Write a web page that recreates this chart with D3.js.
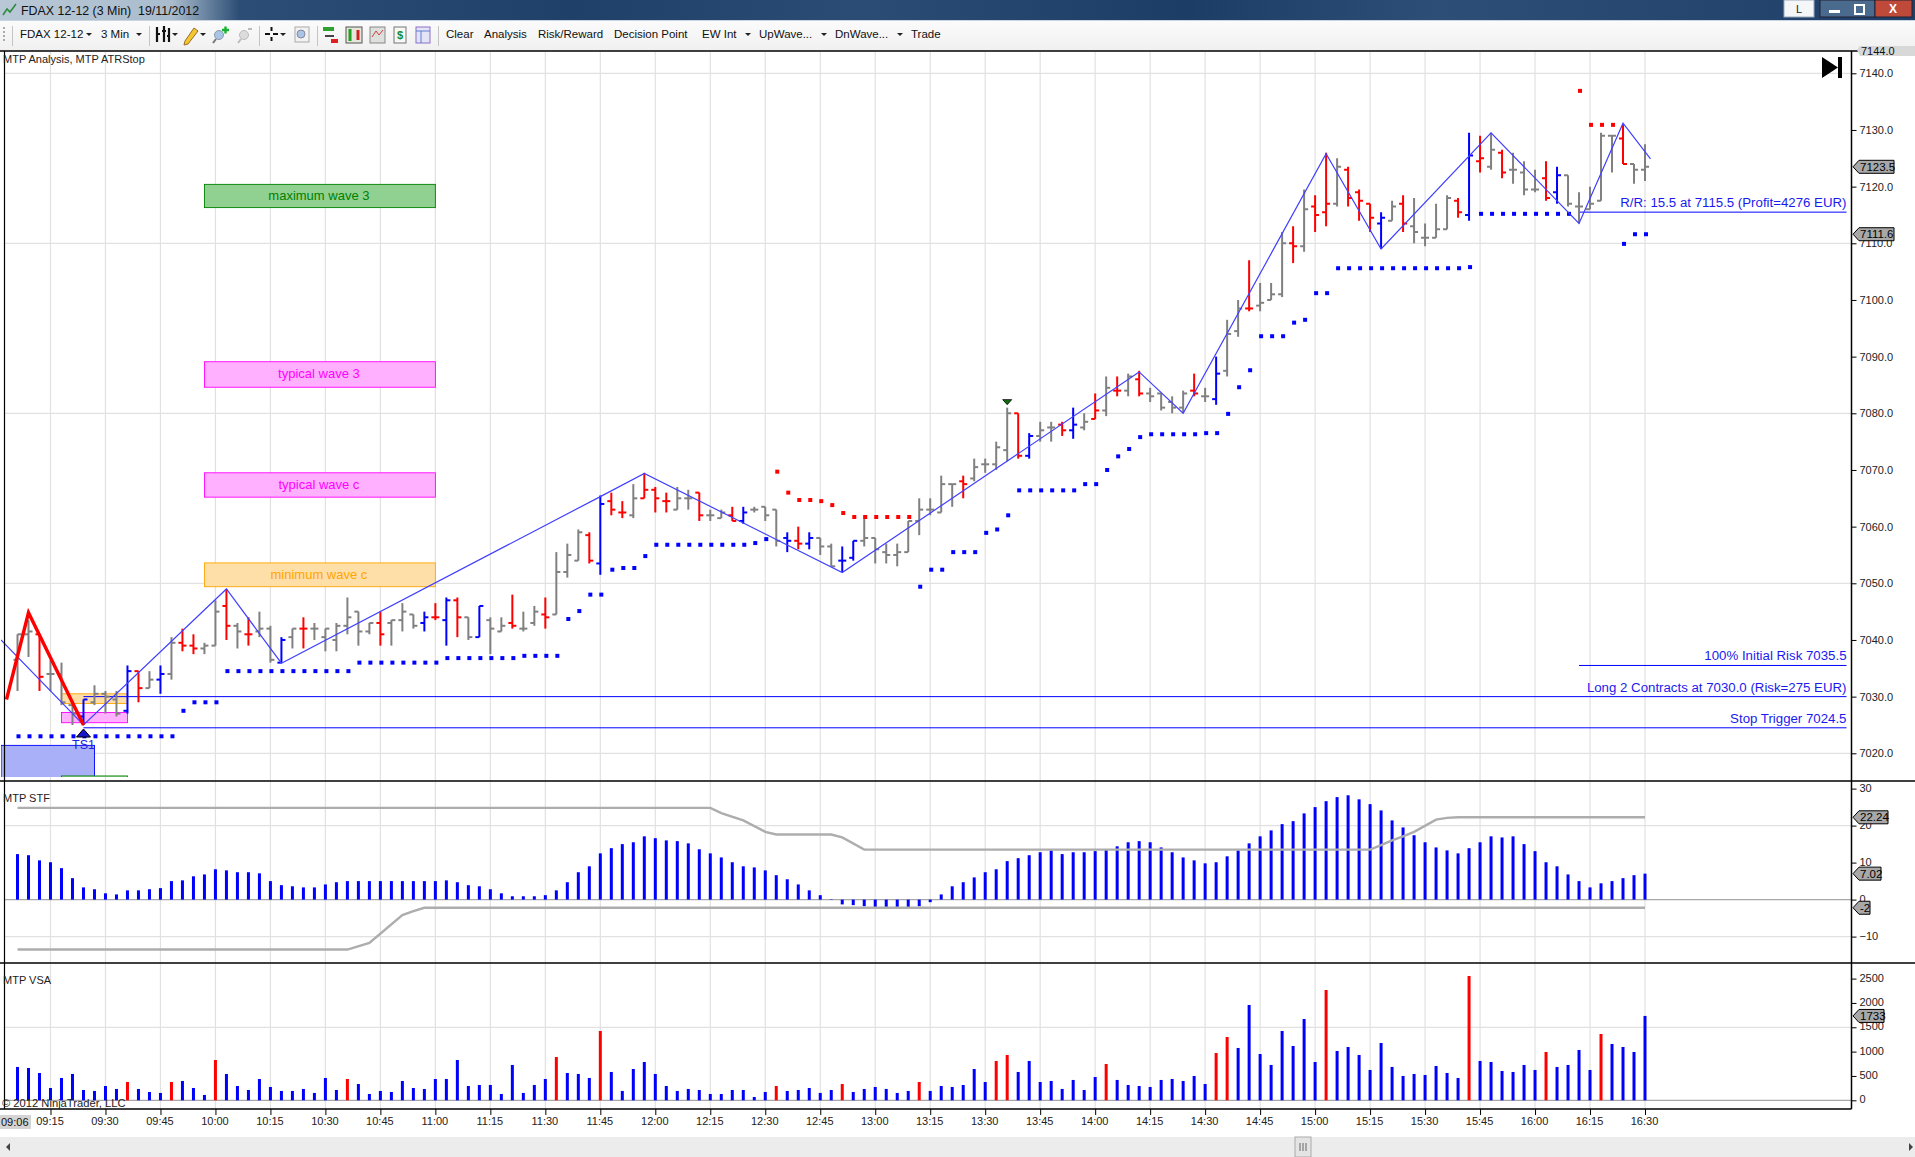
<!DOCTYPE html>
<html>
<head>
<meta charset="utf-8">
<title>FDAX 12-12 (3 Min)</title>
<script src="https://cdn.jsdelivr.net/npm/d3@7"></script>
<style>
  html, body { margin: 0; padding: 0; background: #fff; overflow: hidden; }
  svg { display: block; }
  text { font-family: "Liberation Sans", Arial, sans-serif; }
</style>
</head>
<body>
<div id="chart"></div>
<script>
const width = 1915;
const height = 1157;

// OHLC bars, one every 3 minutes from 09:06 to 16:30
const barOpen = [7036.5,7041,7041,7034,7034,7028.5,7026.5,7029,7030.5,7029.5,
  7027.5,7034.5,7031.5,7033,7034,7039.5,7039,7038.5,7039,7046,
  7042.5,7041,7041.5,7042,7036,7040.5,7042,7042,7040.5,7040,
  7042.5,7045,7041.5,7043,7043,7043.5,7044.5,7043,7044,7043.5,
  7047,7044,7040.5,7043.5,7041.5,7043,7042,7043,7044.5,7044.5,
  7052,7054,7058.5,7053.5,7064.5,7062.5,7062,7065,7066.5,7064.5,
  7063,7065,7066,7062,7061.5,7062,7061,7063,7063.5,7063,
  7058,7057.5,7057,7058,7056.5,7054,7054.5,7057.5,7058,7055.5,
  7055,7055.5,7061,7063,7062.5,7067.5,7068,7068.5,7071,7071,
  7073.5,7080,7072.5,7076,7077.5,7078,7077,7077.5,7079,7080.5,
  7084,7084,7086,7083.5,7083.5,7082,7081,7084,7083,7082.5,
  7087.5,7094.5,7098.5,7099,7100,7101,7110,7109.5,7116.5,7115.5,
  7117,7123,7119,7117,7113.5,7114,7117,7113,7111,7111,
  7112.5,7117.5,7115,7124.5,7123.5,7126,7123,7122.5,7119.5,7121.5,
  7119,7122,7116.5,7116,7117.5,7129,7128.5,7124,7123];
const barHigh = [7041,7043.5,7041,7036.5,7036,7029,7029.5,7032,7031,7031,
  7035.5,7034.5,7034.5,7035.5,7040.5,7042,7041,7039.5,7047,7049,
  7043,7044,7045,7042.5,7040.5,7042,7044,7043,7042,7043,
  7047.5,7045,7043,7045,7043.5,7046.5,7044.5,7045,7046.5,7047.5,
  7047.5,7044,7046,7044,7044,7048,7045,7046,7047.5,7055.5,
  7057,7059.5,7059,7065.5,7066,7064.5,7067.5,7069.5,7067,7066,
  7067,7066.5,7066,7063,7063,7063.5,7063.5,7063.5,7063.5,7063,
  7059,7060,7059,7058,7057,7056.5,7057.5,7062,7058,7057,
  7057,7061,7065,7065,7069,7067.5,7069,7072,7072,7075,
  7081,7080,7076.5,7078.5,7078.5,7078.5,7081,7080,7083.5,7086.5,
  7086.5,7087,7087.5,7084.5,7083.5,7083,7084,7087,7084.5,7090,
  7096.5,7100,7107,7103,7103,7112,7113,7119.5,7118.5,7126,
  7125,7123.5,7119.5,7117,7115.5,7117.5,7118.5,7118,7113.5,7117,
  7118.5,7118,7129.5,7129,7129.5,7126.5,7126,7124.5,7123,7124.5,
  7123.5,7122,7119,7120,7129.5,7129,7131,7124,7127.5];
const barLow = [7031,7037,7031,7031,7028.5,7025,7025,7028.5,7027,7026.5,
  7027,7029,7031.5,7030.5,7033,7038,7037.5,7037.5,7039,7040,
  7038.5,7039,7040.5,7036,7036,7038.5,7038.5,7040,7038,7038,
  7041,7039,7041,7039,7039,7041.5,7042,7041.5,7043.5,7039,
  7040.5,7040,7040.5,7037.5,7041.5,7042,7041.5,7042.5,7042,7044.5,
  7051,7054,7053.5,7051.5,7062,7061.5,7061.5,7065,7062.5,7062.5,
  7063,7063,7061,7061,7061.5,7061,7060.5,7062.5,7061,7056.5,
  7055.5,7056,7056,7055,7053,7052,7054,7056.5,7053.5,7053.5,
  7053,7055.5,7058.5,7062,7062.5,7063.5,7065,7068,7069.5,7070,
  7071.5,7072,7072,7075,7075,7076,7075.5,7077,7079,7079.5,
  7083,7083,7083,7082,7080.5,7080,7080,7083,7082,7081.5,
  7086.5,7093.5,7098,7098,7100,7100.5,7106.5,7108.5,7112,7113,
  7116.5,7116.5,7114,7112,7109,7114,7112,7110,7109.5,7111,
  7112.5,7114.5,7114,7122.5,7123,7121.5,7120.5,7118.5,7119,7117.5,
  7117,7116.5,7113.5,7116,7117.5,7122.5,7124,7120.5,7121];
const barClose = [7041,7041.5,7033.5,7034,7029,7027,7029.5,7030.5,7030,7027,
  7034.5,7031.5,7033,7034,7039.5,7039,7038.5,7039,7045,7042.5,
  7041.5,7041,7042,7036.5,7040,7042,7042,7042,7042,7042.5,
  7044,7041.5,7043,7041,7043.5,7045,7042.5,7044,7044,7047,
  7044,7040.5,7046,7042,7042.5,7042.5,7042,7045,7044,7052,
  7055,7059,7054,7064,7063,7062.5,7065,7066.5,7065,7064.5,
  7065,7065,7062,7062,7062.5,7061,7062.5,7063,7062,7057.5,
  7057.5,7057,7058,7056.5,7053,7054,7057.5,7058,7056,7055,
  7055.5,7061,7063,7063,7067.5,7067.5,7067.5,7070.5,7071,7074,
  7080,7072.5,7076,7077,7077.5,7077,7078,7078.5,7080.5,7084.5,
  7084,7086.5,7083.5,7083,7081,7081,7083.5,7083.5,7083,7087,
  7094,7098.5,7098.5,7099.5,7101,7110,7109.5,7116,7115,7117,
  7123.5,7118,7117.5,7114.5,7114.5,7116.5,7113.5,7112,7111,7112.5,
  7118,7115.5,7125.5,7125,7126.5,7122.5,7123,7119.5,7119.5,7118,
  7122,7117,7116.5,7117,7129,7129,7124,7123,7123.5];
const barColour = ("ggrgggbggg" + "brgbgrrggr" + "grggbgrggg" + "gggrgggbrb" + "rgbggrggrg" +
  "ggrbrrgrrr" + "ggrggrbggg" + "brbggbbggg" + "ggggggrggg" + "grbggrbgrg" +
  "rgrggggrgb" + "ggrgggrgrr" + "grrrbgrggg" + "grbrgrgggr" + "bgggggrgg").split("");
const colourOf = { g: "#808080", r: "#ff0000", b: "#0000ff" };

// ATR stop runs: first bar, last bar, price
const blueStops = [[0,14,7023],[15,15,7027.5],[16,18,7029],[19,30,7034.5],[31,38,7036],
  [39,45,7036.8],[46,49,7037.2],[50,50,7043.7],[51,51,7045.1],[52,53,7048],[54,54,7052.4],
  [55,56,7052.7],[57,57,7054.8],[58,66,7056.8],[67,67,7057.1],[68,68,7057.8],[82,82,7049.4],
  [83,84,7052.4],[85,87,7055.5],[88,88,7058.9],[89,89,7059.5],[90,90,7062],[91,96,7066.4],
  [97,98,7067.5],[99,99,7070],[100,100,7072.4],[101,101,7073.7],[102,102,7075.8],[103,107,7076.3],
  [108,109,7076.5],[110,110,7079.9],[111,111,7084.6],[112,112,7087.6],[113,115,7093.6],
  [116,116,7096],[117,117,7096.5],[118,119,7101.2],[120,131,7105.6],[132,132,7105.8],
  [133,141,7115.2],[146,146,7109.9],[147,148,7111.6]];
const redStops = [[69,69,7069.7],[70,70,7066],[71,72,7064.7],[73,73,7064.5],[74,74,7063.8],
  [75,75,7062.4],[76,81,7061.7],[142,142,7136.9],[143,145,7130.9]];

// Swing lines: [bar, price]
const zigzag = [[-1.5,7040],[6,7025],[19,7049],[24,7035.9],[53,7065.3],[57,7069.4],[75,7051.9],
  [102,7087.3],[106,7080],[119,7125.8],[124,7109],[134,7129.5],[142,7113.5],[146,7131.2],[148.5,7124.9]];
const redWave = [[-1,7029.5],[1,7044.8],[6,7025]];

// Target boxes: label, first bar, last bar, top price, bottom price, stroke, fill
const zones = [
  ["maximum wave 3", 17, 38, 7120.4, 7116.3, "#008000", "#90d090"],
  ["typical wave 3", 17, 38, 7089.1, 7084.6, "#ff00ff", "#ffb0ff"],
  ["typical wave c", 17, 38, 7069.5, 7065.2, "#ff00ff", "#ffb0ff"],
  ["minimum wave c", 17, 38, 7053.6, 7049.4, "#ffa500", "#ffdfa8"],
  ["", 4, 10, 7030.5, 7028.8, "#ffa500", "#ffdfa8"],
  ["", 4, 10, 7027.2, 7025.4, "#ff00ff", "#ffb0ff"],
  ["", -1.5, 7, 7021.4, 7000, "#0000ff", "#aab0f8"],
  ["", 4, 10, 7016, 7000, "#008000", "#aad8aa"]
];

// Trade levels: price, first bar, label
const tradeLines = [
  [7115.5, 142, "R/R: 15.5 at 7115.5 (Profit=4276 EUR)"],
  [7035.5, 142, "100% Initial Risk 7035.5"],
  [7030, 6, "Long 2 Contracts at 7030.0 (Risk=275 EUR)"],
  [7024.5, 6, "Stop Trigger 7024.5"]
];

// MTP STF histogram
const stfValues = [12.3,12,10.6,10.1,8.5,5.8,3.3,2.8,1.7,1.4,2.5,2.5,2.8,3.1,5,5.2,6.3,6.8,8.2,7.9,
  7.4,7.4,7.1,5,3.9,3.6,3.3,3.3,4.1,4.7,5,5,5,5,5,5,5,5,5,5.2,4.7,3.9,3.6,2.8,1.7,0.9,0.9,0.9,1.2,2.5,
  4.7,7.4,9,12.5,13.9,15,15.5,
  17.1,16.6,16,15.8,15.2,13.6,12.5,11.4,10.1,9,8.7,7.9,6.6,5.5,4.1,2.5,1.2,0.1,-1.3,-1.5,-1.8,-2.3,-2.3,-2.3,
  -2.3,-1.8,-0.7,1.4,3.6,4.7,6,7.4,8.2,10.4,11.2,12,12.8,13.3,12.3,12.8,12.8,13.1,13.6,14.4,15.5,15.8,15.5,
  14.1,12.8,11.4,10.6,9.8,10.1,11.7,13.3,15.2,17.1,18.7,
  20.4,21.2,23.3,25,26.6,27.7,28.2,27.1,25.8,24.1,21.4,19.5,17.4,15.5,14.1,13.3,12.5,13.9,15.5,17.1,16.8,17.1,
  15,13.1,10.1,9,6.8,5,3.3,4.4,5,5.8,6.6,7.02];
const stfUpper = [[0,24.8],[63,24.8],[64,23.4],[66,21.4],[68,18.3],[69,17.6],[74,17.6],[75,16.8],[77,13.5],
  [123,13.5],[124,14.7],[125,16],[126,17.1],[127,18.3],[129,21.6],[130,22.1],[131,22.24],[148,22.24]];
const stfLower = [[0,-13.5],[30,-13.5],[32,-11.7],[35,-4.2],[36,-3.1],[37,-2.2],[148,-2.2]];

// MTP VSA volume
const volumes = [685,664,561,253,459,541,212,192,294,233,376,233,171,151,376,397,253,110,828,541,
  294,212,438,274,192,192,233,151,459,212,438,335,130,192,171,397,253,233,438,438,828,294,315,315,130,726,
  151,315,438,890,561,541,459,1424,582,192,643,
  787,541,294,192,233,212,130,130,212,212,68,171,294,192,212,253,151,212,335,171,233,274,233,151,192,376,
  192,294,274,315,643,376,808,931,582,808,376,397,233,418,212,479,746,418,315,294,274,418,438,397,500,335,
  972,1301,1075,1958,951,726,
  1424,1116,1670,787,2266,1013,1095,931,623,1177,685,500,541,520,705,561,459,2553,808,787,602,582,726,623,
  993,685,726,1034,623,1362,1157,1095,993,1733];
const volumeRed = [10,14,18,30,49,53,69,75,82,89,90,99,109,110,119,132,139,144];

const timeLabels = ["09:15","09:30","09:45","10:00","10:15","10:30","10:45","11:00","11:15","11:30","11:45",
  "12:00","12:15","12:30","12:45","13:00","13:15","13:30","13:45","14:00","14:15","14:30","14:45",
  "15:00","15:15","15:30","15:45","16:00","16:15","16:30"];
const priceTicks = [7020,7030,7040,7050,7060,7070,7080,7090,7100,7110,7120,7130,7140];
const priceGrid = [7020,7050,7080,7110,7140];
const stfTicks = [-10,0,10,20,30];
const volumeTicks = [0,500,1000,1500,2000,2500];
const toolbarLabels = [["FDAX 12-12",20],["3 Min",101],["Clear",446],["Analysis",484],["Risk/Reward",538],
  ["Decision Point",614],["EW Int",702],["UpWave...",759],["DnWave...",835],["Trade",911]];
const toolbarArrows = [89,139,175,203,283,748,824,900];
const toolbarSeparators = [12.5,149.5,259.5,317.5,438.5];

const axisX = 1851.5;
const x = d3.scaleLinear().domain([0, 148]).range([17.5, 1645]);
const yPrice = d3.scaleLinear().domain([7020, 7140]).range([753.3, 73.3]);
const yStf = d3.scaleLinear().domain([-10, 20]).range([936.6, 825.6]);
const yVol = d3.scaleLinear().domain([0, 2500]).range([1100.3, 978.6]);

const svg = d3.select("#chart").append("svg")
    .attr("width", width)
    .attr("height", height)
    .attr("viewBox", [0, 0, width, height]);
const defs = svg.append("defs");

// window chrome
const titleGrad = defs.append("linearGradient").attr("id", "titleGrad");
[[0,"#b9c8d6"],[0.09,"#a9bccd"],[0.125,"#2c4d75"],[0.3,"#1f4068"],[0.45,"#2b4c74"],[0.62,"#1c3d66"],[0.75,"#2d4e76"],[1,"#1f3f68"]]
  .forEach(s => titleGrad.append("stop").attr("offset", s[0]).attr("stop-color", s[1]));
const toolGrad = defs.append("linearGradient").attr("id", "toolGrad").attr("x2", 0).attr("y2", 1);
toolGrad.append("stop").attr("offset", 0).attr("stop-color", "#fbfbfb");
toolGrad.append("stop").attr("offset", 1).attr("stop-color", "#f0f0f0");
defs.append("clipPath").attr("id", "mainClip").append("rect")
    .attr("x", 1).attr("y", 52).attr("width", axisX - 1).attr("height", 725);

svg.append("rect").attr("width", width).attr("height", 20).attr("fill", "url(#titleGrad)");
svg.append("rect").attr("y", 20).attr("width", width).attr("height", 1).attr("fill", "#c8d4e0");
svg.append("rect").attr("y", 21).attr("width", width).attr("height", 30).attr("fill", "url(#toolGrad)");
svg.append("text").attr("x", 21).attr("y", 14.5).attr("font-size", 12.4).attr("fill", "#111")
    .style("white-space", "pre").text("FDAX 12-12 (3 Min)  19/11/2012");
svg.append("path").attr("d", "M3 15L7 9L10 12L16 4").attr("fill", "none").attr("stroke", "#2a8a3a").attr("stroke-width", 1.5);

// window buttons
svg.append("rect").attr("x", 1784).attr("y", 0).attr("width", 30).attr("height", 17).attr("fill", "#f4f6f8").attr("stroke", "#9ab");
svg.append("text").attr("x", 1799).attr("y", 13).attr("text-anchor", "middle").attr("font-size", 11).attr("fill", "#222").text("L");
svg.append("rect").attr("x", 1820).attr("y", 0).attr("width", 55).attr("height", 17).attr("fill", "#4a6a8e").attr("stroke", "#223");
svg.append("rect").attr("x", 1875).attr("y", 0).attr("width", 37).attr("height", 17).attr("fill", "#c04a3a").attr("stroke", "#223");
svg.append("rect").attr("x", 1829).attr("y", 10).attr("width", 11).attr("height", 3).attr("fill", "#fff");
svg.append("rect").attr("x", 1855).attr("y", 5).attr("width", 9).attr("height", 9).attr("fill", "none").attr("stroke", "#fff").attr("stroke-width", 2);
svg.append("text").attr("x", 1893).attr("y", 13).attr("text-anchor", "middle").attr("font-size", 12).attr("font-weight", "bold").attr("fill", "#fff").text("X");

// toolbar
svg.selectAll(".toolLabel").data(toolbarLabels).enter().append("text")
    .attr("x", d => d[1]).attr("y", 38).attr("font-size", 11.5).attr("fill", "#111").text(d => d[0]);
svg.selectAll(".toolArrow").data(toolbarArrows).enter().append("path")
    .attr("d", d => `M${d - 3} 33L${d + 3} 33L${d} 36Z`).attr("fill", "#222");
svg.selectAll(".toolSep").data(toolbarSeparators).enter().append("line")
    .attr("x1", d => d).attr("x2", d => d).attr("y1", 26).attr("y2", 46).attr("stroke", "#c4c4c4");
svg.append("line").attr("x1", 4).attr("x2", 4).attr("y1", 27).attr("y2", 42)
    .attr("stroke", "#aaa").attr("stroke-width", 2).attr("stroke-dasharray", "2 2");
// toolbar icons, kept simple
svg.append("path").attr("d", "M156 34H160M157 27V42M162 31H166M164 26V42M167 36H170M169 28V42").attr("stroke", "#111").attr("stroke-width", 2.2).attr("fill", "none");
svg.append("path").attr("d", "M185 41L194 28L198 31L188 44L184 45Z").attr("fill", "#f2c832").attr("stroke", "#a06a20");
svg.append("circle").attr("cx", 219).attr("cy", 35).attr("r", 4.5).attr("fill", "#a9c4e4").attr("stroke", "#8a9aa8");
svg.append("path").attr("d", "M216 39L213 43").attr("stroke", "#777").attr("stroke-width", 2);
svg.append("path").attr("d", "M222 30H229M225.5 26.5V33.5").attr("stroke", "#18b030").attr("stroke-width", 2.4);
svg.append("circle").attr("cx", 244).attr("cy", 35).attr("r", 4.5).attr("fill", "#dcdcdc").attr("stroke", "#bbb");
svg.append("path").attr("d", "M241 39L238 43M248 29H252").attr("stroke", "#bbb").attr("stroke-width", 2);
svg.append("path").attr("d", "M265 34H270M273 34H278M271.5 27V31M271.5 37V41").attr("stroke", "#111").attr("stroke-width", 2);
svg.append("rect").attr("x", 295).attr("y", 27).attr("width", 14).attr("height", 15).attr("fill", "#f2f2f2").attr("stroke", "#aaa");
svg.append("circle").attr("cx", 301).attr("cy", 34).attr("r", 4).attr("fill", "#a9c4e4").attr("stroke", "#889");
// chart type icons
svg.append("path").attr("d", "M323 29H334").attr("stroke", "#30a030").attr("stroke-width", 4);
svg.append("path").attr("d", "M325 36H334").attr("stroke", "#444").attr("stroke-width", 2);
svg.append("path").attr("d", "M331 41H338").attr("stroke", "#e02020").attr("stroke-width", 4);
svg.append("rect").attr("x", 346).attr("y", 27).attr("width", 16).attr("height", 16).attr("fill", "#e6e6dc").attr("stroke", "#555");
svg.append("path").attr("d", "M350 29V41").attr("stroke", "#20a020").attr("stroke-width", 3);
svg.append("path").attr("d", "M358 30V40").attr("stroke", "#d02020").attr("stroke-width", 3);
svg.append("rect").attr("x", 370).attr("y", 27).attr("width", 15).attr("height", 16).attr("fill", "#dde0dc").attr("stroke", "#888");
svg.append("path").attr("d", "M372 37L376 31L379 35L383 30").attr("fill", "none").attr("stroke", "#d04040");
svg.append("rect").attr("x", 394).attr("y", 27).attr("width", 12).attr("height", 16).attr("fill", "#f6f8f4").attr("stroke", "#777");
svg.append("text").attr("x", 400).attr("y", 39).attr("text-anchor", "middle").attr("font-size", 11).attr("font-weight", "bold").attr("fill", "#128a30").text("$");
svg.append("rect").attr("x", 416).attr("y", 27).attr("width", 14).attr("height", 16).attr("fill", "#e4e4f6").attr("stroke", "#8a70c8");
svg.append("path").attr("d", "M416 31H430M421 31V43").attr("stroke", "#5a80d0");

// scrollbar
svg.append("rect").attr("y", 1137).attr("width", width).attr("height", 20).attr("fill", "#ececec");
svg.append("rect").attr("x", 1295).attr("y", 1137).attr("width", 16).attr("height", 20).attr("fill", "#e4e4e4").attr("stroke", "#aaa");
svg.append("path").attr("d", "M1300 1143V1151M1303 1143V1151M1306 1143V1151").attr("stroke", "#666");
svg.append("path").attr("d", "M10 1143L6 1147L10 1151Z").attr("fill", "#444");
svg.append("path").attr("d", "M1909 1143L1913 1147L1909 1151Z").attr("fill", "#444");

// grid
const gridColour = "#e1e1e1";
const tickBars = timeLabels.map((d, i) => 3 + i * 5);
const panes = [[52, 781], [782, 963], [964, 1109]];
panes.forEach(p => {
  svg.append("g").selectAll("line").data(tickBars).enter().append("line")
      .attr("x1", d => x(d)).attr("x2", d => x(d)).attr("y1", p[0]).attr("y2", p[1])
      .attr("stroke", gridColour).attr("stroke-width", 1.2);
});
function hGrid(values, scale, colour) {
  svg.append("g").selectAll("line").data(values).enter().append("line")
      .attr("x1", 4).attr("x2", axisX).attr("y1", d => scale(d)).attr("y2", d => scale(d))
      .attr("stroke", colour).attr("stroke-width", 1.2);
}
hGrid(priceGrid, yPrice, gridColour);
hGrid([-10, 20], yStf, gridColour);
hGrid([0], yStf, "#a8a8a8");
hGrid([1500], yVol, gridColour);
hGrid([0], yVol, "#a8a8a8");

// target boxes
const main = svg.append("g").attr("clip-path", "url(#mainClip)");
main.selectAll(".zone").data(zones).enter().append("rect")
    .attr("x", d => x(d[1]))
    .attr("width", d => x(d[2]) - x(d[1]))
    .attr("y", d => yPrice(d[3]))
    .attr("height", d => yPrice(d[4]) - yPrice(d[3]))
    .attr("fill", d => d[6])
    .attr("stroke", d => d[5])
    .attr("stroke-width", 0.9);
main.selectAll(".zoneText").data(zones.filter(d => d[0])).enter().append("text")
    .attr("x", d => (x(d[1]) + x(d[2])) / 2 - 1)
    .attr("y", d => (yPrice(d[3]) + yPrice(d[4])) / 2 + 4)
    .attr("text-anchor", "middle").attr("font-size", 13)
    .attr("fill", d => d[5]).text(d => d[0]);

// trade levels
main.selectAll(".level").data(tradeLines).enter().append("line")
    .attr("x1", d => x(d[1])).attr("x2", 1846.5)
    .attr("y1", d => yPrice(d[0])).attr("y2", d => yPrice(d[0]))
    .attr("stroke", "#0000ff").attr("stroke-width", 1);
main.selectAll(".levelText").data(tradeLines).enter().append("text")
    .attr("x", 1846.5).attr("y", d => yPrice(d[0]) - 5).attr("text-anchor", "end")
    .attr("font-size", 13.25).attr("fill", "#1a1aee").text(d => d[2]);

// OHLC bars
const bars = main.append("g").selectAll("g").data(barOpen).enter().append("g")
    .attr("stroke", (d, i) => colourOf[barColour[i]]).attr("stroke-width", 2);
bars.append("line").attr("x1", (d, i) => x(i)).attr("x2", (d, i) => x(i))
    .attr("y1", (d, i) => yPrice(barHigh[i])).attr("y2", (d, i) => yPrice(barLow[i]));
bars.append("line").attr("x1", (d, i) => x(i) - 4).attr("x2", (d, i) => x(i))
    .attr("y1", d => yPrice(d)).attr("y2", d => yPrice(d));
bars.append("line").attr("x1", (d, i) => x(i)).attr("x2", (d, i) => x(i) + 4)
    .attr("y1", (d, i) => yPrice(barClose[i])).attr("y2", (d, i) => yPrice(barClose[i]));

// ATR stop dots
function drawStops(runs, colour) {
  const dots = runs.flatMap(r => d3.range(r[0], r[1] + 1).map(i => [i, r[2]]));
  main.append("g").selectAll("rect").data(dots).enter().append("rect")
      .attr("x", d => x(d[0]) - 1).attr("y", d => yPrice(d[1]) - 2)
      .attr("width", 4).attr("height", 4).attr("fill", colour);
}
drawStops(blueStops, "#0000ff");
drawStops(redStops, "#ff0000");

// swing lines
const swingLine = d3.line().x(d => x(d[0])).y(d => yPrice(d[1]));
main.append("path").attr("d", swingLine(zigzag)).attr("fill", "none").attr("stroke", "#4040ff").attr("stroke-width", 1.2);
main.append("path").attr("d", swingLine(redWave)).attr("fill", "none").attr("stroke", "#ff0000").attr("stroke-width", 3.4);

// signal markers
svg.append("path").attr("transform", `translate(${x(6)},${yPrice(7023.4)})`)
    .attr("d", "M-7 3L0 -5L7 3Z").attr("fill", "#1818c8").attr("stroke", "#000");
svg.append("text").attr("x", x(6)).attr("y", 749).attr("text-anchor", "middle").attr("font-size", 12.5).attr("fill", "#2020e0").text("TS1");
svg.append("path").attr("transform", `translate(${x(90)},${yPrice(7081) - 6})`)
    .attr("d", "M-4.5 -2L4.5 -2L0 3Z").attr("fill", "#107010").attr("stroke", "#000").attr("stroke-width", 0.8);
// jump to last bar
svg.append("path").attr("d", "M1822 57L1838 67.5L1822 78Z").attr("fill", "#000");
svg.append("rect").attr("x", 1838).attr("y", 57).attr("width", 4).attr("height", 21).attr("fill", "#000");

// MTP STF
svg.append("g").selectAll("rect").data(stfValues).enter().append("rect")
    .attr("x", (d, i) => x(i) - 1.5).attr("width", 3)
    .attr("y", d => yStf(Math.max(d, 0)))
    .attr("height", d => Math.abs(yStf(d) - yStf(0)))
    .attr("fill", "#0000ff");
const stfLine = d3.line().x(d => x(d[0])).y(d => yStf(d[1]));
[stfUpper, stfLower].forEach(s => {
  svg.append("path").attr("d", stfLine(s)).attr("fill", "none").attr("stroke", "#adadad").attr("stroke-width", 2.4);
});

// MTP VSA
svg.append("g").selectAll("rect").data(volumes).enter().append("rect")
    .attr("x", (d, i) => x(i) - 1.5).attr("width", 3)
    .attr("y", d => yVol(d))
    .attr("height", d => yVol(0) - yVol(d))
    .attr("fill", (d, i) => volumeRed.includes(i) ? "#ff0000" : "#0000ff");

// pane frames
[51, 781, 963].forEach(y => {
  svg.append("line").attr("x1", 0).attr("x2", width).attr("y1", y).attr("y2", y).attr("stroke", "#000").attr("stroke-width", 1.5);
});
svg.append("line").attr("x1", 0).attr("x2", axisX).attr("y1", 1109).attr("y2", 1109).attr("stroke", "#000").attr("stroke-width", 1.5);
svg.append("line").attr("x1", 4.5).attr("x2", 4.5).attr("y1", 51).attr("y2", 1109).attr("stroke", "#000").attr("stroke-width", 1.2);
svg.append("line").attr("x1", axisX).attr("x2", axisX).attr("y1", 51).attr("y2", 1109).attr("stroke", "#000").attr("stroke-width", 1.5);

// axes
function styleAxis(g) {
  g.select(".domain").remove();
  g.selectAll("line").attr("stroke", "#000");
  g.selectAll("text").attr("fill", "#222").style("font-family", "'Liberation Sans', Arial, sans-serif").style("font-size", "11px");
}
svg.append("g").attr("transform", `translate(${axisX},0)`)
    .call(d3.axisRight(yPrice).tickValues(priceTicks).tickFormat(d3.format(".1f")).tickSize(5).tickPadding(3)).call(styleAxis);
svg.append("g").attr("transform", `translate(${axisX},0)`)
    .call(d3.axisRight(yStf).tickValues(stfTicks).tickFormat(d3.format("d")).tickSize(5).tickPadding(3)).call(styleAxis)
    .selectAll("text").attr("dy", "0.22em");
svg.append("g").attr("transform", `translate(${axisX},0)`)
    .call(d3.axisRight(yVol).tickValues(volumeTicks).tickFormat(d3.format("d")).tickSize(5).tickPadding(3)).call(styleAxis)
    .selectAll("text").attr("dy", "0.22em");
svg.append("g").attr("transform", "translate(0,1109)")
    .call(d3.axisBottom(x).tickValues(tickBars).tickFormat((d, i) => timeLabels[i]).tickSize(6).tickPadding(2)).call(styleAxis)
    .selectAll("text").attr("dx", -1);

// value flags on the axis
function flag(y, label, w) {
  const g = svg.append("g").attr("transform", `translate(1853,${y})`);
  g.append("path").attr("d", `M0 0L6 -6.5H${w}V6.5H6Z`).attr("fill", "#a8a8a8").attr("stroke", "#000");
  g.append("text").attr("x", 7).attr("y", 4).attr("font-size", 11.5).attr("fill", "#000").text(label);
}
svg.append("path").attr("d", "M1857 50L1860 46H1915V56H1860Z").attr("fill", "#d8d8d8");
svg.append("text").attr("x", 1861).attr("y", 55).attr("font-size", 11).attr("fill", "#111").text("7144.0");
flag(yPrice(7123.5), "7123.5", 41);
flag(yPrice(7111.6), "7111.6", 41);
flag(yStf(22.24), "22.24", 35);
flag(yStf(7.02), "7.02", 28);
flag(yStf(-2.2), "-2", 17);
flag(yVol(1733), "1733", 31);

// pane titles
[["MTP Analysis, MTP ATRStop", 63], ["MTP STF", 802], ["MTP VSA", 984]].forEach(d => {
  svg.append("text").attr("x", 3).attr("y", d[1]).attr("font-size", 11).attr("fill", "#222").text(d[0]);
});
svg.append("text").attr("x", 2).attr("y", 1107).attr("font-size", 11.2).attr("fill", "#222").text("© 2012 NinjaTrader, LLC");
svg.append("rect").attr("x", 0).attr("y", 1115).attr("width", 31).attr("height", 14).attr("fill", "#d4d4d4");
svg.append("text").attr("x", 1).attr("y", 1126).attr("font-size", 11).attr("fill", "#111").text("09:06");
</script>
</body>
</html>
